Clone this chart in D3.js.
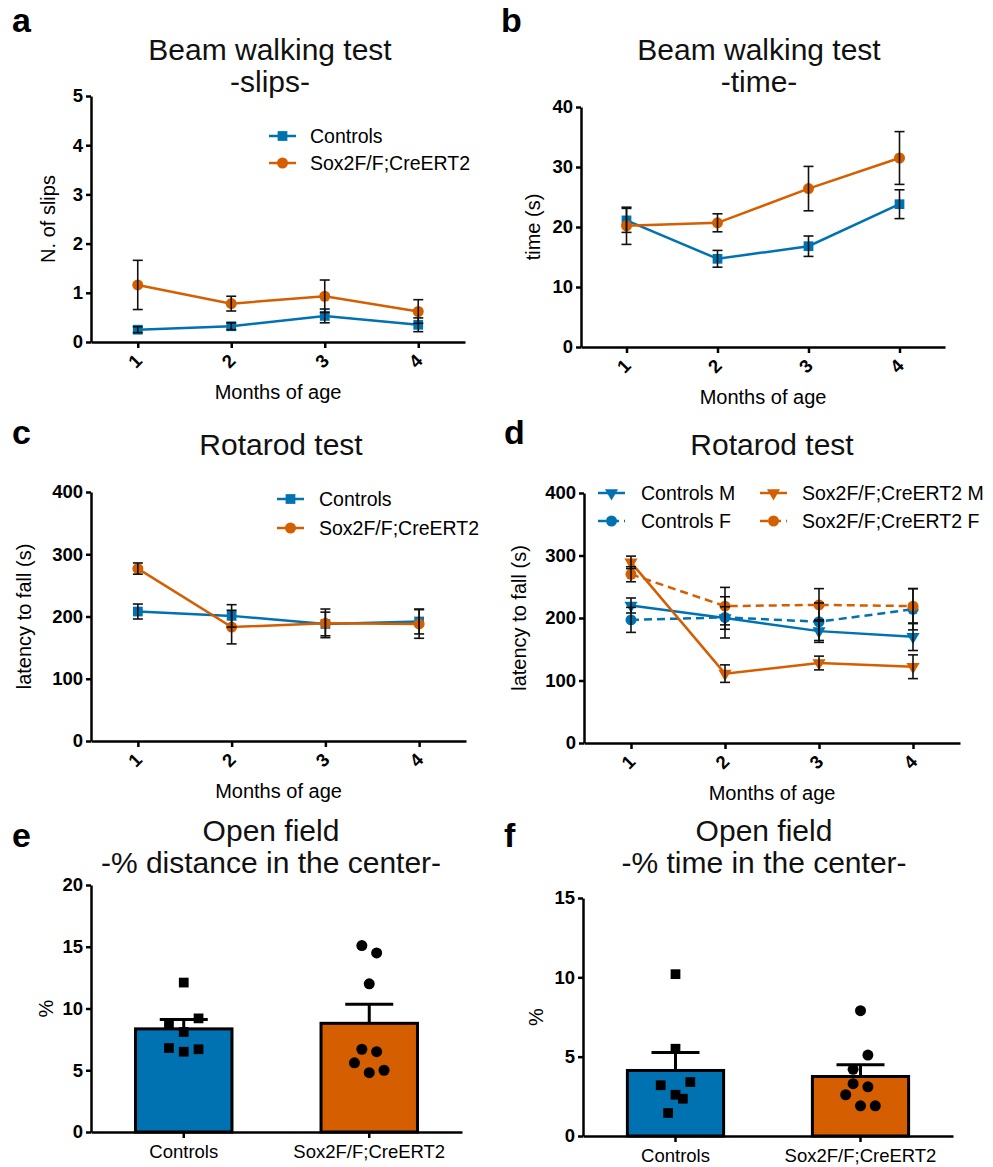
<!DOCTYPE html>
<html>
<head>
<meta charset="utf-8">
<script src="https://cdn.jsdelivr.net/npm/d3@7"></script>
<style>
  body { margin: 0; background: #fff; }
  svg { font-family: "Liberation Sans", Arial, sans-serif; }
</style>
</head>
<body>
<svg id="fig" width="993" height="1167"></svg>
<script>
const blue = "#0072B2";
const orange = "#D55E00";

const months = [1, 2, 3, 4];
const groups = ["Controls", "Sox2F/F;CreERT2"];

// beam walking - slips
const ctrlSlips = [0.25, 0.32, 0.53, 0.35];
const ctrlSlipsErr = [0.06, 0.07, 0.14, 0.14];
const soxSlips = [1.16, 0.78, 0.93, 0.62];
const soxSlipsErr = [0.5, 0.15, 0.33, 0.24];

// beam walking - time
const ctrlTime = [21.1, 14.7, 16.8, 23.8];
const ctrlTimeErr = [2.0, 1.4, 1.7, 2.4];
const soxTime = [20.2, 20.7, 26.4, 31.5];
const soxTimeErr = [3.1, 1.5, 3.7, 4.4];

// rotarod
const ctrlRot = [208, 201, 188, 192];
const ctrlRotErr = [12, 18, 19, 20];
const soxRot = [277, 183, 189, 188];
const soxRotErr = [9, 27, 23, 23];

// rotarod by sex
const ctrlM = [220, 200, 179, 170];
const ctrlMErr = [12, 18, 18, 22];
const ctrlF = [197, 201, 194, 214];
const ctrlFErr = [20, 33, 30, 33];
const soxM = [289, 111, 128, 122];
const soxMErr = [10, 14, 11, 19];
const soxF = [270, 219, 221, 219];
const soxFErr = [12, 30, 26, 28];

// open field - % distance (mean, sem, single animals, jitter column)
const distMean = [8.35, 8.8];
const distSem = [0.75, 1.55];
const distCtrlPts = [12.1, 8.8, 9.2, 8.1, 6.8, 6.5, 6.7];
const distCtrlCol = [0, -2, 2, 0, -2, 0, 2];
const distSoxPts = [15.1, 14.5, 12.0, 6.7, 6.5, 5.6, 4.8, 5.0];
const distSoxCol = [-1, 1, 0, -1, 1, -2, 0, 2];

// open field - % time
const timeMean = [4.13, 3.75];
const timeSem = [1.13, 0.74];
const timeCtrlPts = [10.2, 5.5, 3.2, 3.4, 2.6, 2.35, 1.45];
const timeCtrlCol = [0, 0, -2, 2, 0, 1, -1];
const timeSoxPts = [7.9, 5.1, 4.2, 3.3, 3.1, 2.6, 1.9, 1.9];
const timeSoxCol = [0, 1, -1, -1, 1, -2, 0, 2];

const svg = d3.select("#fig");
const fmt = d3.format("d");

function symbolPath(kind) {
  if (kind === "square") return d3.symbol().type(d3.symbolSquare).size(95)();
  if (kind === "tri") return d3.symbol().type(d3.symbolTriangle).size(75)();
  return d3.symbol().type(d3.symbolCircle).size(95)();
}

function marker(g, kind, cx, cy, color) {
  g.append("path")
    .attr("d", symbolPath(kind))
    .attr("transform", `translate(${cx},${cy})` + (kind === "tri" ? " rotate(180)" : ""))
    .attr("fill", color);
}

function letter(t, x, y) {
  svg.append("text").attr("x", x).attr("y", y)
    .attr("font-size", 34).attr("font-weight", "bold").text(t);
}

function title(lines, cx, y0) {
  lines.forEach((l, i) => {
    svg.append("text").attr("x", cx).attr("y", y0 + i * 32)
      .attr("text-anchor", "middle").attr("font-size", 30).attr("fill", "#111").text(l);
  });
}

function yAxis(g, p, y) {
  const ax = g.append("g").attr("transform", `translate(${p.x0},0)`)
    .call(d3.axisLeft(y).tickValues(d3.range(0, p.yMax + p.yStep / 2, p.yStep))
      .tickFormat(fmt).tickSize(5).tickSizeOuter(0));
  ax.selectAll("path, line").attr("stroke", "#000").attr("stroke-width", 2.5);
  ax.selectAll("text").attr("font-size", 18.5).attr("font-weight", "bold").attr("fill", "#000").attr("x", -8);
  g.append("text")
    .attr("transform", `translate(${p.yLabelX},${(p.yTop + p.yBottom) / 2}) rotate(-90)`)
    .attr("text-anchor", "middle").attr("font-size", 20).text(p.yLabel);
}

function linePanel(p) {
  const g = svg.append("g");
  const x = d3.scaleLinear().domain([0.5, 4.5]).range([p.x0, p.x1]);
  const y = d3.scaleLinear().domain([0, p.yMax]).range([p.yBottom, p.yTop]);

  const xa = g.append("g").attr("transform", `translate(0,${p.yBottom})`)
    .call(d3.axisBottom(x).tickValues(months).tickFormat(fmt).tickSize(6).tickSizeOuter(0));
  xa.selectAll("path, line").attr("stroke", "#000").attr("stroke-width", 2.5);
  xa.selectAll("text")
    .attr("x", 0).attr("y", 0).attr("dy", 0)
    .attr("transform", "translate(5,20) rotate(-45)")
    .attr("text-anchor", "end")
    .attr("font-size", 18.5).attr("font-weight", "bold").attr("fill", "#000");
  yAxis(g, p, y);

  g.append("text").attr("x", (p.x0 + p.x1) / 2).attr("y", p.yBottom + 57)
    .attr("text-anchor", "middle").attr("font-size", 20).text("Months of age");

  const line = d3.line().x((d, i) => x(months[i])).y(d => y(d));
  p.series.forEach(s => {
    g.append("path").datum(s.values).attr("d", line)
      .attr("fill", "none").attr("stroke", s.color).attr("stroke-width", 2.5)
      .attr("stroke-dasharray", s.dash ? "8,5" : null);
  });
  p.series.forEach(s => {
    s.values.forEach((v, i) => marker(g, s.marker, x(months[i]), y(v), s.color));
  });
  const eb = g.append("g").attr("stroke", "#111").attr("stroke-width", 1.6);
  p.series.forEach(s => {
    s.values.forEach((v, i) => {
      const cx = x(months[i]), lo = y(v - s.err[i]), hi = y(v + s.err[i]);
      eb.append("line").attr("x1", cx).attr("x2", cx).attr("y1", lo).attr("y2", hi);
      eb.append("line").attr("x1", cx - 5).attr("x2", cx + 5).attr("y1", lo).attr("y2", lo);
      eb.append("line").attr("x1", cx - 5).attr("x2", cx + 5).attr("y1", hi).attr("y2", hi);
    });
  });

  p.legend.forEach(l => {
    const s = p.series[l.i];
    g.append("line").attr("x1", l.x).attr("x2", l.x + 27).attr("y1", l.y).attr("y2", l.y)
      .attr("stroke", s.color).attr("stroke-width", 2.5)
      .attr("stroke-dasharray", s.dash ? "8,5" : null);
    marker(g, s.marker, l.x + 13.5, l.y, s.color);
    g.append("text").attr("x", l.tx).attr("y", l.y + 7)
      .attr("font-size", 19.5).text(s.name);
  });
}

function barPanel(p) {
  const g = svg.append("g");
  const x = d3.scaleBand().domain(groups).range([p.x0, p.x1]).paddingInner(0.48).paddingOuter(0.24);
  const y = d3.scaleLinear().domain([0, p.yMax]).range([p.yBottom, p.yTop]);
  const col = d3.scaleLinear().domain([-1, 1]).range([-7.4, 7.4]);

  const xa = g.append("g").attr("transform", `translate(0,${p.yBottom})`)
    .call(d3.axisBottom(x).tickSize(6).tickSizeOuter(0));
  xa.selectAll("path, line").attr("stroke", "#000").attr("stroke-width", 2.5);
  xa.selectAll("text").attr("y", 0).attr("dy", 26)
    .attr("font-size", 18.5).attr("fill", "#000");
  yAxis(g, p, y);

  groups.forEach((grp, k) => {
    const cx = x(grp) + x.bandwidth() / 2;
    g.append("rect")
      .attr("x", x(grp)).attr("y", y(p.mean[k]))
      .attr("width", x.bandwidth()).attr("height", p.yBottom - y(p.mean[k]))
      .attr("fill", [blue, orange][k]).attr("stroke", "#000").attr("stroke-width", 3);
    const top = y(p.mean[k] + p.sem[k]);
    g.append("line").attr("x1", cx).attr("x2", cx).attr("y1", y(p.mean[k])).attr("y2", top)
      .attr("stroke", "#000").attr("stroke-width", 3);
    g.append("line").attr("x1", cx - 24).attr("x2", cx + 24).attr("y1", top).attr("y2", top)
      .attr("stroke", "#000").attr("stroke-width", 3);
    p.pts[k].forEach((v, j) => {
      marker(g, k === 0 ? "square" : "circle", cx + col(p.cols[k][j]), y(v), "#000");
    });
  });
}

letter("a", 12, 32);
letter("b", 501, 32);
letter("c", 12, 444);
letter("d", 504, 444);
letter("e", 12, 847);
letter("f", 504, 847);

title(["Beam walking test", "-slips-"], 270, 60);
title(["Beam walking test", "-time-"], 759, 60);
title(["Rotarod test"], 281, 455);
title(["Rotarod test"], 772, 455);
title(["Open field", "-% distance in the center-"], 271, 841);
title(["Open field", "-% time in the center-"], 764, 841);

linePanel({
  x0: 91, x1: 465, yTop: 96, yBottom: 342, yMax: 5, yStep: 1,
  yLabel: "N. of slips", yLabelX: 55,
  series: [
    { name: "Controls", values: ctrlSlips, err: ctrlSlipsErr, color: blue, marker: "square" },
    { name: "Sox2F/F;CreERT2", values: soxSlips, err: soxSlipsErr, color: orange, marker: "circle" }
  ],
  legend: [{ i: 0, x: 269, y: 136, tx: 310 }, { i: 1, x: 269, y: 163, tx: 310 }]
});

linePanel({
  x0: 581, x1: 945, yTop: 107, yBottom: 347, yMax: 40, yStep: 10,
  yLabel: "time (s)", yLabelX: 540,
  series: [
    { name: "Controls", values: ctrlTime, err: ctrlTimeErr, color: blue, marker: "square" },
    { name: "Sox2F/F;CreERT2", values: soxTime, err: soxTimeErr, color: orange, marker: "circle" }
  ],
  legend: []
});

linePanel({
  x0: 91, x1: 466, yTop: 492, yBottom: 741, yMax: 400, yStep: 100,
  yLabel: "latency to fall (s)", yLabelX: 31,
  series: [
    { name: "Controls", values: ctrlRot, err: ctrlRotErr, color: blue, marker: "square" },
    { name: "Sox2F/F;CreERT2", values: soxRot, err: soxRotErr, color: orange, marker: "circle" }
  ],
  legend: [{ i: 0, x: 277, y: 499, tx: 319 }, { i: 1, x: 277, y: 528, tx: 319 }]
});

linePanel({
  x0: 584, x1: 960, yTop: 493, yBottom: 743, yMax: 400, yStep: 100,
  yLabel: "latency to fall (s)", yLabelX: 526,
  series: [
    { name: "Controls M", values: ctrlM, err: ctrlMErr, color: blue, marker: "tri" },
    { name: "Controls F", values: ctrlF, err: ctrlFErr, color: blue, marker: "circle", dash: true },
    { name: "Sox2F/F;CreERT2 M", values: soxM, err: soxMErr, color: orange, marker: "tri" },
    { name: "Sox2F/F;CreERT2 F", values: soxF, err: soxFErr, color: orange, marker: "circle", dash: true }
  ],
  legend: [
    { i: 0, x: 598, y: 493, tx: 641 }, { i: 1, x: 598, y: 521, tx: 641 },
    { i: 2, x: 760, y: 493, tx: 802 }, { i: 3, x: 760, y: 521, tx: 802 }
  ]
});

barPanel({
  x0: 91, x1: 462, yTop: 885, yBottom: 1132, yMax: 20, yStep: 5,
  yLabel: "%", yLabelX: 53,
  mean: distMean, sem: distSem,
  pts: [distCtrlPts, distSoxPts], cols: [distCtrlCol, distSoxCol]
});

barPanel({
  x0: 583, x1: 953, yTop: 898, yBottom: 1136, yMax: 15, yStep: 5,
  yLabel: "%", yLabelX: 543,
  mean: timeMean, sem: timeSem,
  pts: [timeCtrlPts, timeSoxPts], cols: [timeCtrlCol, timeSoxCol]
});
</script>
</body>
</html>
